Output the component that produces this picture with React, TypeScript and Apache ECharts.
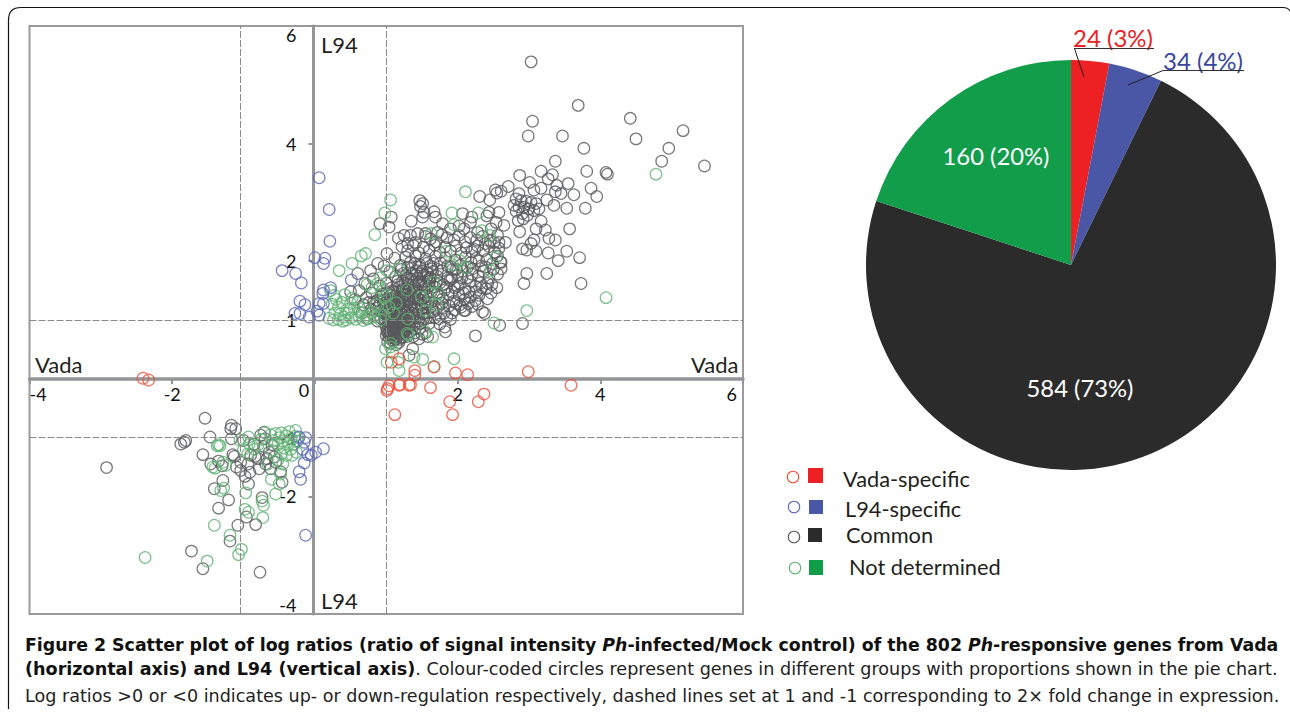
import React, { useEffect, useRef } from "react";
import * as echarts from "echarts";

type P = [number, number];

const xTicks = [-4, -2, 0, 2, 4, 6];
const yTicks = [-4, -2, 0, 2, 4, 6];
const yLabels = [-4, -2, -1, 1, 2, 4, 6];
const xCutoffs = [-1.04, 1];
const yCutoffs = [-1, 1];

const groupNames = ["Vada-specific", "L94-specific", "Common", "Not determined"];
const groupCounts = [24, 34, 584, 160];
const groupPercents = [3, 4, 73, 20];

const vadaSpecific: P[] = [
  [-2.41, 0.01], [-2.33, -0.02], [1.02, -0.17], [1.04, -0.12], [1.18, -0.11], [1.19, -0.1], [1.32, -0.11], [1.34, -0.1],
  [1.62, -0.15], [1.12, -0.61], [1.89, -0.39], [1.93, -0.61], [2.29, -0.39], [2.37, -0.26], [1.97, 0.1], [2.14, 0.07],
  [2.99, 0.12], [3.59, -0.11], [1.4, 0.14], [1.4, 0.06], [1.18, 0.34], [1.07, 0.28], [1.67, 0.2], [1.01, -0.2],
];

const l94Specific: P[] = [
  [0.06, 3.42], [0.2, 2.88], [0.21, 2.34], [0.0, 2.06], [0.14, 2.05], [0.12, 1.96], [-0.46, 1.84], [-0.27, 1.79],
  [-0.19, 1.63], [0.51, 1.68], [0.22, 1.55], [0.12, 1.51], [0.11, 1.45], [-0.21, 1.32], [-0.14, 1.26], [0.06, 1.28],
  [0.12, 1.28], [-0.28, 1.11], [-0.21, 1.11], [-0.08, 1.05], [0.06, 1.08], [-0.22, -0.99], [-0.13, -1.0], [-0.15, -1.08],
  [0.12, -1.19], [0.01, -1.25], [-0.1, -1.29], [-0.15, -1.43], [-0.22, -1.58], [-0.2, -1.71], [-0.13, -2.66], [-0.05, -1.3],
  [0.03, 1.15], [-0.17, -1.2],
];

const commonOutliers: P[] = [
  [3.03, 5.39], [3.69, 4.65], [3.05, 4.38], [2.99, 4.13], [3.47, 4.13], [3.77, 3.92], [4.42, 4.43], [4.5, 4.08],
  [5.16, 4.22], [4.96, 3.92], [4.86, 3.7], [5.46, 3.62], [3.37, 3.7], [3.81, 3.53], [4.08, 3.51], [4.1, 3.48],
  [3.17, 3.53], [3.33, 3.47], [3.27, 3.4], [2.87, 3.46], [3.01, 3.34], [3.55, 3.32], [3.39, 3.29], [3.87, 3.24],
  [3.17, 3.24], [3.07, 3.21], [3.37, 3.18], [3.45, 3.15], [3.63, 3.13], [3.95, 3.1], [2.71, 3.27], [2.61, 3.19],
  [2.53, 3.21], [2.55, 3.16], [2.31, 3.1], [2.45, 3.04], [3.25, 3.04], [3.35, 2.95], [3.53, 2.9], [3.79, 2.9],
  [2.86, 3.15], [2.82, 3.06], [2.89, 3.03], [2.96, 3.02], [3.03, 3.0], [3.1, 2.98], [2.79, 2.95], [2.86, 2.92],
  [2.93, 2.92], [3.0, 2.89], [3.07, 2.86], [3.14, 2.89], [2.82, 2.85], [2.91, 2.81], [2.98, 2.78], [2.85, 2.69],
  [2.92, 2.72], [3.17, 2.68], [2.87, 2.5], [3.1, 2.55], [3.23, 2.53], [3.57, 2.55], [3.28, 2.39], [3.37, 2.36],
  [3.07, 2.36], [3.03, 2.3], [2.91, 2.21], [2.97, 2.19], [3.1, 2.17], [3.27, 2.14], [3.53, 2.17], [3.71, 2.06],
  [3.41, 2.01], [2.97, 1.79], [3.25, 1.79], [2.93, 1.62], [3.73, 1.62], [2.91, 0.94], [2.59, 0.91], [2.25, 0.73],
];

const commonUpper: P[] = [
  [1.47, 3.03], [1.51, 2.98], [1.48, 2.93], [1.53, 2.83], [1.67, 2.84], [1.51, 2.75], [1.35, 2.68], [1.69, 2.75],
  [1.07, 2.75], [1.04, 2.58], [0.91, 2.64], [1.17, 2.39], [1.25, 2.44], [1.34, 2.44], [1.44, 2.47], [1.41, 2.32],
  [1.3, 2.3], [1.55, 2.47], [1.72, 2.49], [1.79, 2.64], [2.07, 2.81], [2.58, 2.83], [2.44, 2.83], [2.65, 2.61],
  [2.54, 2.66], [2.18, 2.66], [2.09, 2.55], [2.28, 2.49], [2.39, 2.3], [2.58, 2.32], [2.67, 2.32], [2.51, 2.32],
  [1.01, 2.13], [2.41, 2.77], [2.47, 2.55], [2.2, 2.75], [2.02, 2.6], [1.9, 2.55],
];

const commonCloud: P[] = [
  [1.55, 2.42], [1.62, 2.38], [1.7, 2.33], [1.78, 2.45], [1.85, 2.4], [1.95, 2.36], [2.02, 2.44], [2.1, 2.33],
  [2.18, 2.4], [2.27, 2.36], [2.35, 2.42], [2.46, 2.35], [2.56, 2.44],
  [1.22, 2.25], [1.3, 2.18], [1.38, 2.27], [1.46, 2.14], [1.52, 2.24], [1.6, 2.18], [1.68, 2.27], [1.75, 2.15],
  [1.82, 2.24], [1.9, 2.17], [1.98, 2.26], [2.05, 2.14], [2.12, 2.23], [2.2, 2.16], [2.28, 2.26], [2.36, 2.18],
  [2.44, 2.25], [2.52, 2.15], [2.58, 2.22],
  [0.88, 1.96], [1.12, 2.05], [1.2, 1.93], [1.27, 2.07], [1.34, 1.98], [1.41, 2.09], [1.47, 1.94], [1.55, 2.04],
  [1.62, 1.92], [1.69, 2.08], [1.76, 1.97], [1.83, 2.06], [1.9, 1.91], [1.97, 2.02], [2.04, 1.93], [2.11, 2.07],
  [2.19, 1.98], [2.26, 2.05], [2.33, 1.92], [2.41, 2.03], [2.49, 1.96], [2.56, 2.09], [2.61, 1.98], [2.6, 1.99],
  [1.05, 1.82], [1.13, 1.74], [1.21, 1.86], [1.28, 1.76], [1.36, 1.88], [1.43, 1.71], [1.5, 1.83], [1.57, 1.73],
  [1.64, 1.87], [1.71, 1.75], [1.78, 1.84], [1.86, 1.72], [1.93, 1.86], [2.0, 1.76], [2.07, 1.83], [2.14, 1.72],
  [2.21, 1.87], [2.29, 1.75], [2.36, 1.83], [2.44, 1.72], [2.5, 1.86], [2.56, 1.78], [2.61, 1.87],
  [1.0, 1.62], [1.08, 1.55], [1.16, 1.66], [1.24, 1.53], [1.31, 1.68], [1.39, 1.57], [1.46, 1.64], [1.54, 1.52],
  [1.61, 1.66], [1.68, 1.56], [1.75, 1.63], [1.82, 1.51], [1.89, 1.67], [1.96, 1.55], [2.03, 1.62], [2.1, 1.52],
  [2.18, 1.66], [2.25, 1.57], [2.32, 1.63], [2.4, 1.53], [2.48, 1.6], [2.55, 1.55],
  [1.33, 1.35], [1.4, 1.46], [1.48, 1.34], [1.56, 1.42], [1.64, 1.31], [1.72, 1.47], [1.79, 1.36], [1.87, 1.44],
  [1.95, 1.32], [2.02, 1.43], [2.1, 1.35], [2.18, 1.39], [2.25, 1.33], [2.3, 1.42], [2.42, 1.36], [2.47, 1.46],
  [1.5, 1.2], [1.58, 1.27], [1.66, 1.14], [1.74, 1.25], [1.81, 1.12], [1.88, 1.24], [1.96, 1.17], [2.03, 1.26],
  [2.09, 1.16], [2.11, 1.16], [2.2, 1.23], [2.35, 1.14], [2.38, 1.11], [2.28, 1.27],
  [1.52, 1.02], [1.6, 0.94], [1.68, 1.04], [1.75, 0.93], [1.82, 0.88], [1.9, 1.01], [1.47, 0.86], [1.83, 0.8],
  [1.55, 0.78], [1.38, 0.72], [1.46, 0.68], [1.37, 0.51], [1.32, 0.4], [1.58, 0.72],
];

const commonCore: P[] = [
  [0.5, 1.48], [0.6, 1.79], [0.78, 1.84], [0.97, 1.92], [0.56, 1.35], [0.62, 1.5], [0.68, 1.26], [0.72, 1.38],
  [0.8, 1.46], [0.87, 1.33], [0.95, 1.44], [1.02, 1.36], [1.1, 1.47], [1.17, 1.32], [1.25, 1.43], [0.7, 1.62],
  [0.82, 1.7], [0.91, 1.58], [0.66, 1.12], [0.73, 1.02], [0.79, 1.18], [0.84, 1.08], [0.9, 1.25], [0.95, 1.12],
  [1.0, 1.24], [1.03, 1.05], [1.08, 1.18], [1.12, 1.29], [1.16, 1.08], [1.2, 1.2], [1.24, 1.31], [1.27, 1.02],
  [1.31, 1.16], [1.35, 1.27], [1.38, 1.06], [1.42, 1.19], [1.45, 0.98], [0.88, 0.98], [0.93, 1.03], [0.98, 0.95],
  [1.03, 0.96], [1.06, 0.89], [1.1, 0.97], [1.14, 0.92], [1.19, 0.98], [1.23, 0.9], [1.28, 0.95], [1.32, 0.88],
  [1.36, 0.93], [1.41, 0.85], [1.02, 0.84], [1.05, 0.8], [1.09, 0.85], [1.12, 0.79], [1.16, 0.84], [1.2, 0.78],
  [1.24, 0.83], [1.28, 0.76], [1.33, 0.8], [1.0, 0.74], [1.04, 0.7], [1.07, 0.75], [1.11, 0.69], [1.15, 0.73],
  [1.19, 0.67], [1.23, 0.71], [1.02, 0.63], [1.06, 0.6], [1.1, 0.64], [1.14, 0.58], [1.18, 0.62], [1.01, 1.1],
  [1.05, 1.3], [1.09, 1.06], [1.13, 1.18], [1.17, 1.25], [1.21, 1.1], [1.25, 1.15], [1.29, 1.26], [1.33, 1.06],
  [1.37, 1.16], [1.22, 1.38], [1.28, 1.5], [1.34, 1.41], [1.18, 1.56], [1.26, 1.62], [1.32, 1.52], [1.38, 1.64],
  [1.42, 1.5], [1.44, 1.36], [1.3, 1.72], [1.36, 1.78], [1.42, 1.84], [1.24, 1.79], [1.3, 1.9], [1.4, 1.96],
  [1.48, 1.78], [1.52, 1.66], [1.5, 1.48], [1.54, 1.3], [1.58, 1.12], [1.62, 1.22], [1.6, 1.58], [1.58, 1.8],
  [1.62, 1.72], [1.66, 1.96], [1.7, 1.62], [1.72, 1.86], [1.74, 1.4], [1.7, 1.18], [1.78, 1.28], [1.84, 1.56],
  [1.86, 1.92], [1.92, 1.48], [1.92, 1.7], [1.98, 1.86], [2.0, 1.58], [2.06, 1.72], [2.08, 1.46], [2.14, 1.9],
  [0.98, 1.02], [1.0, 0.88], [1.03, 0.78], [1.07, 0.94], [1.1, 0.88], [1.13, 1.02], [1.17, 0.96], [1.21, 0.86],
  [1.25, 1.0], [1.29, 0.84], [1.31, 0.98], [1.08, 1.14], [1.15, 1.15], [1.18, 1.38], [1.12, 1.4], [1.06, 1.42],
  [1.0, 1.3], [0.96, 1.28], [0.92, 1.4], [0.86, 1.2], [0.82, 1.3], [0.76, 1.3],
];

const commonDense: P[] = [
  [0.92, 1.15], [0.96, 1.34], [0.99, 1.16], [1.01, 1.47], [1.04, 1.13], [1.06, 1.24], [1.07, 1.36], [1.09, 1.5],
  [1.11, 1.1], [1.14, 1.22], [1.15, 1.45], [1.16, 1.6], [1.19, 1.14], [1.2, 1.28], [1.22, 1.5], [1.23, 1.66],
  [1.25, 1.24], [1.26, 1.36], [1.27, 1.44], [1.29, 1.12], [1.3, 1.33], [1.31, 1.6], [1.33, 1.22], [1.34, 1.46],
  [1.35, 1.7], [1.36, 1.12], [1.38, 1.36], [1.39, 1.5], [1.4, 1.22], [1.41, 1.76], [1.43, 1.28], [1.44, 1.6],
  [1.45, 1.14], [1.46, 1.42], [1.47, 1.9], [1.49, 1.26], [1.5, 1.6], [1.51, 1.1], [1.52, 1.38], [1.53, 1.76],
  [1.55, 1.22], [1.56, 1.6], [1.57, 1.96], [1.59, 1.36], [1.6, 1.7], [1.61, 1.04], [1.63, 1.48], [1.65, 1.82],
  [1.01, 0.8], [1.03, 0.9], [1.05, 0.74], [1.05, 1.0], [1.07, 0.84], [1.08, 0.66], [1.09, 0.92], [1.11, 0.76],
  [1.12, 0.98], [1.13, 0.86], [1.14, 0.68], [1.15, 0.94], [1.17, 0.78], [1.18, 0.9], [1.2, 0.7], [1.21, 0.96],
  [1.22, 0.82], [1.24, 0.94], [1.26, 0.8], [1.27, 0.9], [1.29, 0.72], [1.3, 1.04], [1.34, 0.98], [1.39, 0.92],
  [1.43, 1.04], [1.48, 0.94], [1.52, 1.12], [1.56, 1.02], [1.4, 0.78], [1.5, 0.76],
  [1.74, 1.02], [1.8, 1.2], [1.85, 1.05], [1.92, 1.12], [1.98, 1.28], [2.05, 1.22], [2.15, 1.28], [2.16, 1.48],
  [2.2, 1.78], [2.26, 1.48], [2.34, 1.55], [2.39, 1.9], [2.42, 1.62], [2.3, 2.0], [2.24, 2.2], [1.8, 1.6],
];

const commonLower: P[] = [
  [-2.92, -1.51], [-1.54, -0.67], [-1.17, -0.79], [-1.11, -0.85], [-1.18, -0.85], [-1.47, -0.99], [-1.17, -1.02], [-1.81, -1.05],
  [-1.83, -1.08], [-1.88, -1.11], [-1.57, -1.29], [-1.15, -1.29], [-1.13, -1.32], [-1.46, -1.45], [-1.04, -1.56], [-0.91, -1.59],
  [-0.94, -1.45], [-0.78, -1.53], [-0.79, -1.36], [-1.29, -1.73], [-1.41, -1.87], [-0.93, -1.79], [-0.46, -1.76], [-1.21, -2.06],
  [-1.35, -2.2], [-0.74, -2.02], [-1.08, -2.49], [-0.96, -2.35], [-0.83, -2.48], [-1.19, -2.76], [-1.73, -2.93], [-1.57, -3.23],
  [-0.77, -3.29], [-0.71, -0.91], [-0.76, -0.96], [-0.64, -1.25], [-0.57, -1.33], [-0.69, -1.45], [-0.62, -1.53], [-0.48, -1.58],
  [-1.04, -1.42], [-0.85, -1.11], [-0.9, -1.3], [-1.0, -1.05], [-0.72, -1.15], [-0.55, -1.42], [-1.1, -1.5], [-0.98, -1.66],
  [-0.84, -1.32], [-0.67, -1.36], [-0.7, -1.02], [-0.6, -1.12], [-1.35, -1.4], [-1.3, -1.48],
];

const notDeterminedUpper: P[] = [
  [4.78, 3.48], [2.11, 3.18], [1.06, 3.04], [0.98, 2.82], [1.92, 2.82], [2.29, 2.82], [1.95, 2.62], [2.34, 2.52],
  [2.45, 2.44], [1.63, 2.47], [1.84, 2.17], [2.03, 2.01], [1.93, 1.94], [2.11, 1.89], [2.54, 2.07], [2.46, 1.84],
  [1.18, 1.87], [1.66, 1.64], [1.49, 1.39], [1.62, 1.45], [1.73, 1.45], [1.71, 1.25], [1.55, 1.16], [1.29, 1.51],
  [1.14, 1.29], [1.01, 1.84], [1.01, 1.42], [1.3, 1.02], [2.97, 1.16], [4.08, 1.38], [2.51, 0.95], [1.29, 0.77],
  [1.31, 0.75], [1.55, 0.8], [1.65, 0.71], [1.06, 0.54], [0.84, 2.45], [0.71, 2.13], [0.65, 2.09], [0.52, 1.96],
  [0.34, 1.84], [0.92, 1.72], [0.99, 0.51], [1.09, 0.45], [1.01, 0.28], [1.18, 0.14], [1.39, 0.37], [1.51, 0.33],
  [1.67, 0.21], [1.95, 0.34], [1.17, 0.28], [1.06, 0.6],
];

const notDeterminedLeft: P[] = [
  [0.22, 1.5], [0.27, 1.42], [0.3, 1.35], [0.24, 1.27], [0.33, 1.22], [0.38, 1.3], [0.42, 1.43], [0.45, 1.18],
  [0.5, 1.28], [0.52, 1.37], [0.28, 1.12], [0.36, 1.1], [0.41, 1.05], [0.47, 1.12], [0.55, 1.2], [0.6, 1.3],
  [0.63, 1.13], [0.68, 1.2], [0.72, 1.06], [0.78, 1.13], [0.2, 1.03], [0.26, 1.0], [0.33, 1.01], [0.39, 0.98],
  [0.44, 1.0], [0.51, 1.04], [0.57, 1.01], [0.62, 1.06], [0.68, 0.99], [0.75, 1.02], [0.84, 1.05], [0.92, 1.0],
  [0.97, 1.08], [0.86, 1.26], [0.94, 1.2], [0.8, 1.55], [0.73, 1.6], [0.88, 1.62], [0.95, 1.5], [0.98, 1.4],
  [1.04, 1.22], [1.1, 1.12],
];

const notDeterminedLower: P[] = [
  [-2.38, -3.04], [-1.51, -3.1], [-1.07, -2.99], [-1.03, -2.9], [-1.19, -2.66], [-1.41, -2.49], [-0.73, -2.36], [-0.98, -2.22],
  [-0.93, -2.27], [-0.72, -2.15], [-0.74, -2.08], [-0.97, -1.94], [-0.55, -1.96], [-0.5, -1.79], [-0.61, -1.71], [-1.28, -1.86],
  [-1.32, -1.9], [-1.35, -1.12], [-1.33, -1.14], [-1.4, -1.52], [-1.43, -1.5], [-1.29, -1.42], [-1.25, -1.47], [-0.93, -0.99],
  [-0.92, -1.11], [-0.94, -1.28], [-0.8, -1.13], [-0.71, -0.91], [-0.75, -1.03], [-0.66, -1.45], [-0.45, -1.45], [-0.48, -1.62],
  [-0.27, -0.88], [-0.62, -0.95], [-0.58, -1.05], [-0.55, -0.93], [-0.52, -1.12], [-0.5, -1.0], [-0.47, -0.92], [-0.45, -1.06],
  [-0.43, -1.18], [-0.41, -0.97], [-0.38, -1.08], [-0.36, -0.9], [-0.34, -1.2], [-0.33, -1.02], [-0.3, -1.12], [-0.28, -0.98],
  [-0.26, -1.25], [-0.25, -1.06], [-0.47, -1.28], [-0.4, -1.3], [-0.52, -1.38], [-0.32, -1.3], [-0.6, -1.22], [-0.24, -1.0],
  [-0.85, -1.2], [-1.37, -1.14], [-1.05, -1.04], [-1.0, -1.2],
];

const common: P[] = [...commonOutliers, ...commonUpper, ...commonCloud, ...commonCore, ...commonDense, ...commonLower];
const notDetermined: P[] = [...notDeterminedUpper, ...notDeterminedLeft, ...notDeterminedLower];

const circleColors = ["#ef4c36", "#5a66b6", "#58595b", "#5fb272"];
const sliceColors = ["#ed2024", "#4a57a6", "#2b2b2b", "#119d4a"];
const FONT = "Lato, 'Open Sans', sans-serif";
const CAP = "'DejaVu Sans', sans-serif";
const INK = "#231f20";

echarts.graphic.registerShape(
  "panelEdge",
  echarts.graphic.extendPath("M 8.5 709 L 8.5 20 Q 8.5 7.5 21 7.5 L 1283 7.5 Q 1288 7.5 1290 11", {})
);

const captionBold = { fontFamily: CAP, fontSize: 17.36, fontWeight: "bold", fill: "#111" };
const captionItalic = { ...captionBold, fontStyle: "italic" };
const line2Bold = { ...captionBold, fontSize: 17.6 };
const line2Plain = { fontFamily: CAP, fontSize: 17.6, fill: "#222" };
const line3Plain = { fontFamily: CAP, fontSize: 17.57, fill: "#222" };

function label(text: string, x: number, y: number, size: number, fill = INK, align = "left") {
  return { type: "text", z: 100, x, y, style: { text, fontFamily: FONT, fontSize: size, fill, textAlign: align, textVerticalAlign: "middle" } };
}
function sliceText(i: number) {
  return `${groupCounts[i]} (${groupPercents[i]}%)`;
}
function seg(x1: number, y1: number, x2: number, y2: number, stroke: string, lineWidth = 1) {
  return { type: "line", z: 100, shape: { x1, y1, x2, y2 }, style: { stroke, lineWidth } };
}

const legendRows = [
  { cx: 793, cy: 477, sx: 808, sy: 468, sw: 15, sh: 15, tx: 843, ty: 478 },
  { cx: 794, cy: 507, sx: 809, sy: 500, sw: 14, sh: 14, tx: 845, ty: 508 },
  { cx: 794, cy: 537, sx: 808, sy: 528, sw: 14, sh: 14, tx: 846, ty: 534 },
  { cx: 795, cy: 568, sx: 809, sy: 560, sw: 14, sh: 15, tx: 849, ty: 566 },
];

function scatter(name: string, data: P[], color: string) {
  return {
    type: "scatter",
    name,
    data,
    symbol: "circle",
    symbolSize: 11.5,
    silent: true,
    itemStyle: { color: "rgba(0,0,0,0)", borderColor: color, borderWidth: 1.25 },
  };
}

export default function App() {
  const ref = useRef<HTMLDivElement>(null);
  useEffect(() => {
    const chart = echarts.init(ref.current!, undefined, { renderer: "svg" });
    chart.setOption({
      animation: false,
      backgroundColor: "#fff",
      grid: { left: 29.5, top: 26, width: 713.5, height: 588, outerBoundsMode: "none", show: true, borderColor: "#9a9a9a", borderWidth: 2, backgroundColor: "transparent" },
      xAxis: {
        type: "value", min: -4, max: 6, interval: 2, position: "bottom", offset: -235,
        axisLine: { onZero: false, lineStyle: { color: "#939598", width: 3.5 } },
        axisTick: { show: true, length: 5, inside: false, lineStyle: { color: "#939598", width: 2 } },
        splitLine: { show: false },
        axisLabel: {
          margin: 6, fontFamily: FONT, fontSize: 18, color: "#111", alignMinLabel: "left", alignMaxLabel: "right",
          customValues: xTicks.filter((v) => v !== 0),
          formatter: (v: number) => (v === 6 ? "{six|6}" : String(v)),
          rich: { six: { padding: [0, 6, 0, 0], fontFamily: FONT, fontSize: 18, color: "#111" } },
        },
      },
      yAxis: {
        type: "value", min: -4, max: 6, interval: 2, position: "left", offset: -284,
        axisLine: { onZero: false, lineStyle: { color: "#939598", width: 3 } },
        axisTick: { show: true, length: 5, customValues: yTicks, lineStyle: { color: "#939598", width: 2 } },
        splitLine: { show: false },
        axisLabel: {
          margin: 17, fontFamily: FONT, fontSize: 18, color: "#111", customValues: yLabels,
          verticalAlignMinLabel: "bottom", verticalAlignMaxLabel: "top",
          formatter: (v: number) => String(v),
        },
      },
      series: [
        {
          ...scatter(groupNames[2], common, circleColors[2]),
          markLine: {
            silent: true, symbol: "none", animation: false, label: { show: false },
            lineStyle: { color: "#8a8a8a", width: 1, type: [7, 2] },
            data: [...xCutoffs.map((v) => ({ xAxis: v })), ...yCutoffs.map((v) => ({ yAxis: v }))],
          },
        },
        scatter(groupNames[3], notDetermined, circleColors[3]),
        scatter(groupNames[1], l94Specific, circleColors[1]),
        scatter(groupNames[0], vadaSpecific, circleColors[0]),
        {
          type: "pie", center: [1071, 265], radius: 205, startAngle: 90, clockwise: true, silent: true,
          label: { show: false }, labelLine: { show: false },
          data: groupNames.map((name, i) => ({ name, value: groupCounts[i], itemStyle: { color: sliceColors[i] } })),
        },
      ],
      graphic: [
        { type: "panelEdge", x: 0, y: 0, style: { fill: "none", stroke: "#111", lineWidth: 1.2 } },
        label("L94", 321, 44, 22),
        label("L94", 321, 600, 22),
        label("Vada", 35, 364, 22),
        label("Vada", 691, 364, 22),
        label("0", 304, 390, 18, "#111", "center"),
        label(sliceText(0), 1073, 37, 24, "#ed2024"),
        label(sliceText(1), 1163, 60, 24, "#3a479e"),
        label(sliceText(3), 996, 156, 23.8, "#fff", "center"),
        label(sliceText(2), 1080, 388, 23.8, "#fff", "center"),
        seg(1074, 48.5, 1154, 48.5, "#333"),
        seg(1074.5, 48.5, 1084, 77, "#222"),
        seg(1163, 70.5, 1244, 70.5, "#333"),
        seg(1163, 70.5, 1128, 85, "#222"),
        ...legendRows.flatMap((r, i) => [
          { type: "circle", z: 100, shape: { cx: r.cx, cy: r.cy, r: 5.7 }, style: { fill: "none", stroke: circleColors[i], lineWidth: 1.1 } },
          { type: "rect", z: 100, shape: { x: r.sx, y: r.sy, width: r.sw, height: r.sh }, style: { fill: sliceColors[i] } },
          label(groupNames[i], r.tx, r.ty, 21.8),
        ]),
        {
          type: "text", z: 100, x: 25, y: 645,
          style: {
            text: "{b|Figure 2 Scatter plot of log ratios (ratio of signal intensity }{i|Ph}{b|-infected/Mock control) of the 802 }{i|Ph}{b|-responsive genes from Vada}",
            rich: { b: captionBold, i: captionItalic },
            textVerticalAlign: "middle",
          },
        },
        {
          type: "text", z: 100, x: 25, y: 669,
          style: {
            text: "{b|(horizontal axis) and L94 (vertical axis)}{p|. Colour-coded circles represent genes in different groups with proportions shown in the pie chart.}",
            rich: { b: line2Bold, p: line2Plain },
            textVerticalAlign: "middle",
          },
        },
        {
          type: "text", z: 100, x: 25, y: 696,
          style: {
            text: "{p|Log ratios >0 or <0 indicates up- or down-regulation respectively, dashed lines set at 1 and -1 corresponding to 2× fold change in expression.}",
            rich: { p: line3Plain },
            textVerticalAlign: "middle",
          },
        },
      ],
    });
    return () => chart.dispose();
  }, []);
  return <div ref={ref} style={{ position: "absolute", left: 0, top: 0, width: 1290, height: 715 }} />;
}
